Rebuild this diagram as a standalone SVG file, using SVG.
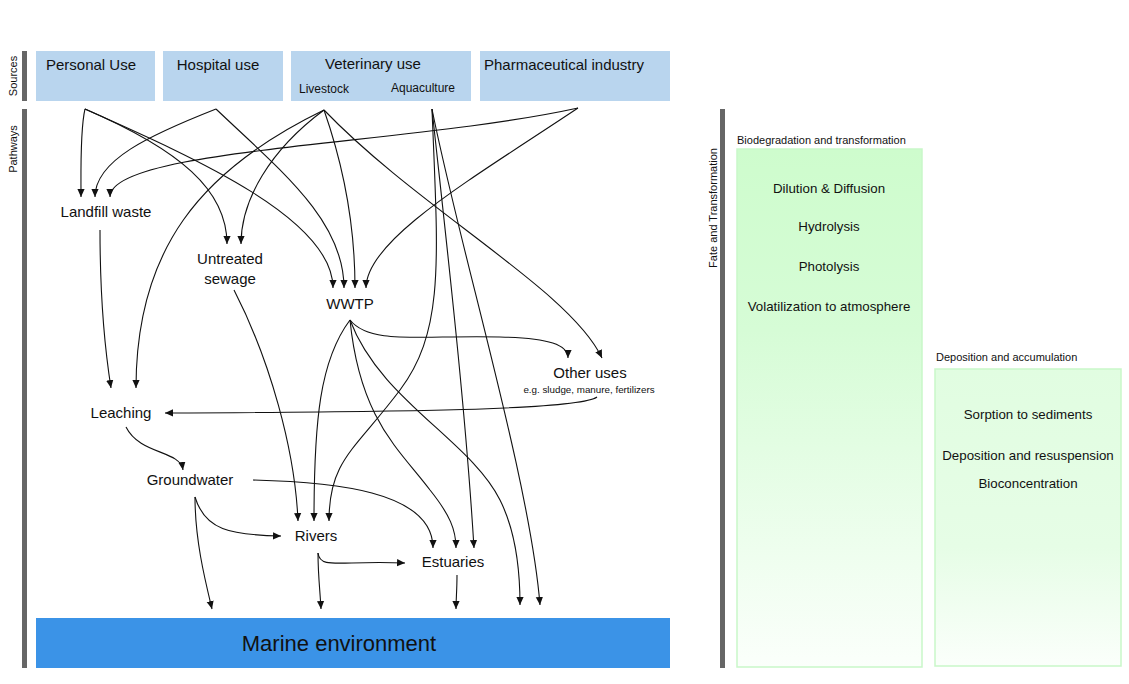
<svg xmlns="http://www.w3.org/2000/svg" width="1129" height="684" viewBox="0 0 1129 684">
<defs>
<style>
text{font-family:"Liberation Sans",Arial,sans-serif;fill:#111}
.src{fill:#b9d5ee}
.lbl{font-size:15px;text-anchor:middle}
.sm{font-size:12px;text-anchor:middle}
.bar{fill:#666}
.side{font-size:11px;text-anchor:middle}
.cap{font-size:11px}
.ft{font-size:13.3px;text-anchor:middle}
.c{fill:none;stroke:#111;stroke-width:1.1;marker-end:url(#ah)}
</style>
<marker id="ah" viewBox="0 0 10 10" refX="10" refY="5" markerWidth="8" markerHeight="8" orient="auto" markerUnits="userSpaceOnUse"><path d="M0,0.5 L10,5 L0,9.5 z" fill="#111"/></marker>
<linearGradient id="g1" x1="0" y1="0" x2="0" y2="1">
<stop offset="0" stop-color="#cefccd"/><stop offset="0.35" stop-color="#d6fcd6"/><stop offset="1" stop-color="#fbfffb"/>
</linearGradient>
<linearGradient id="g2" x1="0" y1="0" x2="0" y2="1">
<stop offset="0" stop-color="#e1fde1"/><stop offset="0.6" stop-color="#e6fde6"/><stop offset="1" stop-color="#fbfffb"/>
</linearGradient>
</defs>
<rect width="1129" height="684" fill="#fff"/>
<g id="side-labels">
<rect class="bar" x="22" y="51" width="5" height="50"/>
<rect class="bar" x="22" y="109" width="5" height="559"/>
<rect class="bar" x="720" y="109" width="5" height="559"/>
<text class="side" transform="translate(17,76) rotate(-90)">Sources</text>
<text class="side" transform="translate(17,149) rotate(-90)">Pathways</text>
<text class="side" transform="translate(717,208) rotate(-90)">Fate and Transformation</text>
</g>
<g id="personal-use"><rect class="src" x="36" y="51" width="119" height="50"/><text class="lbl" x="91" y="70">Personal Use</text></g>
<g id="hospital-use"><rect class="src" x="163" y="51" width="120" height="50"/><text class="lbl" x="218" y="70">Hospital use</text></g>
<g id="veterinary-use"><rect class="src" x="291" y="51" width="180" height="50"/><text class="lbl" x="373" y="69">Veterinary use</text><text class="sm" x="324" y="93">Livestock</text><text class="sm" x="423" y="92">Aquaculture</text></g>
<g id="pharmaceutical-industry"><rect class="src" x="480" y="51" width="190" height="50"/><text class="lbl" x="564" y="70">Pharmaceutical industry</text></g>
<g id="landfill-waste"><text class="lbl" x="106" y="217">Landfill waste</text></g>
<g id="untreated-sewage"><text class="lbl" x="230" y="264">Untreated</text><text class="lbl" x="230" y="284">sewage</text></g>
<g id="wwtp"><text class="lbl" x="350" y="309">WWTP</text></g>
<g id="other-uses"><text class="lbl" x="590" y="378">Other uses</text><text style="font-size:9.8px;text-anchor:middle" x="589" y="393">e.g. sludge, manure, fertilizers</text></g>
<g id="leaching"><text class="lbl" x="121" y="418">Leaching</text></g>
<g id="groundwater"><text class="lbl" x="190" y="485">Groundwater</text></g>
<g id="rivers"><text class="lbl" x="316" y="541">Rivers</text></g>
<g id="estuaries"><text class="lbl" x="453" y="567">Estuaries</text></g>
<g id="marine-environment"><rect x="36" y="618" width="634" height="50" fill="#3b93e7"/><text x="339" y="651" style="font-size:22px;text-anchor:middle">Marine environment</text></g>
<g id="connectors">
<path class="c" d="M85,109 C80,130 81,170 81,197"/>
<path class="c" d="M216,109 C150,135 95,160 95,197"/>
<path class="c" d="M578,108 C410,145 110,148 110,197"/>
<path class="c" d="M85,109 C180,150 227,190 227,244"/>
<path class="c" d="M85,109 C200,160 333,220 333,288"/>
<path class="c" d="M216,109 C280,170 344,220 344,288"/>
<path class="c" d="M324,110 C345,170 355,230 355,288"/>
<path class="c" d="M578,108 C470,180 366,240 366,288"/>
<path class="c" d="M324,110 C270,150 241,200 241,244"/>
<path class="c" d="M324,110 C200,170 136,250 136,388"/>
<path class="c" d="M324,110 C420,210 570,290 602,358"/>
<path class="c" d="M100,230 C100,300 105,350 111,388"/>
<path class="c" d="M432,109 C438,260 445,330 400,390 S329,460 329,521"/>
<path class="c" d="M432,109 C445,230 465,400 474,548"/>
<path class="c" d="M432,109 C460,250 530,480 540,605"/>
<path class="c" d="M350,320 C320,360 314,420 314,521"/>
<path class="c" d="M350,320 C370,345 420,335 500,337 C550,338 568,345 568,358"/>
<path class="c" d="M350,320 C360,420 400,450 430,490 C450,515 456,530 456,548"/>
<path class="c" d="M350,320 C380,400 470,440 500,500 C515,530 520,570 520,605"/>
<path class="c" d="M234,290 C270,360 295,450 298,521"/>
<path class="c" d="M597,397 C580,410 400,412 165,413"/>
<path class="c" d="M126,427 C140,455 180,450 183,470"/>
<path class="c" d="M253,480 C330,482 433,490 433,548"/>
<path class="c" d="M195,497 C205,530 230,535 281,536"/>
<path class="c" d="M195,497 C195,540 205,580 212,609"/>
<path class="c" d="M318,553 C320,570 340,560 405,563"/>
<path class="c" d="M318,553 C318,575 320,590 321,609"/>
<path class="c" d="M457,575 C457,590 456,600 456,609"/>
</g>
<g id="biodegradation">
<text class="cap" x="737" y="144">Biodegradation and transformation</text>
<rect x="737" y="149" width="185" height="518" fill="url(#g1)" stroke="#c9f7c9" stroke-width="1.5"/>
<text class="ft" x="829" y="193">Dilution &amp; Diffusion</text>
<text class="ft" x="829" y="231">Hydrolysis</text>
<text class="ft" x="829" y="271">Photolysis</text>
<text class="ft" x="829" y="311">Volatilization to atmosphere</text>
</g>
<g id="deposition">
<text class="cap" x="936" y="361">Deposition and accumulation</text>
<rect x="935" y="369" width="186" height="297" fill="url(#g2)" stroke="#c9f7c9" stroke-width="1.5"/>
<text class="ft" x="1028" y="419">Sorption to sediments</text>
<text class="ft" x="1028" y="460">Deposition and resuspension</text>
<text class="ft" x="1028" y="488">Bioconcentration</text>
</g>
</svg>
